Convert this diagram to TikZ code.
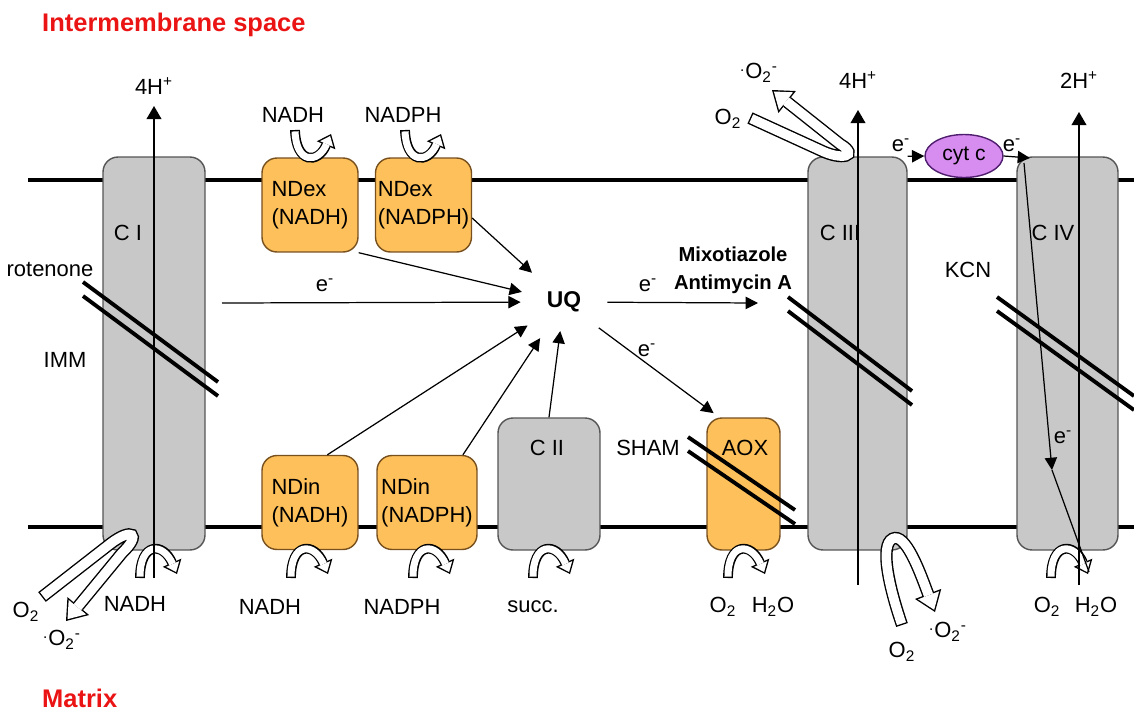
\documentclass[tikz,border=0pt]{standalone}
\usepackage{fontspec}
\setmainfont{Liberation Sans}
\usepackage{tikz}
\usetikzlibrary{arrows.meta, positioning, shapes.geometric}

\definecolor{cplxgray}{RGB}{200,200,200}
\definecolor{cplxedge}{RGB}{85,85,85}
\definecolor{ndorange}{RGB}{253,192,90}
\definecolor{ndedge}{RGB}{120,80,30}
\definecolor{cytviolet}{RGB}{215,140,240}
\definecolor{cytedge}{RGB}{80,30,110}
\definecolor{titlered}{RGB}{235,20,20}

\newcommand{\superox}{\textsuperscript{.}O\textsubscript{2}\textsuperscript{-}}
\newcommand{\elec}{e\textsuperscript{-}}
\newcommand{\hollowarr}[2]{\draw[#1out] #2; \draw[#1in] #2;}

\tikzset{
  every node/.style={font=\fontsize{12.5}{16}\selectfont},
  title/.style={text=titlered, font=\fontsize{14.5}{17}\selectfont\bfseries},
  memb/.style={line width=2.8pt},
  cplx/.style={draw=cplxedge, fill=cplxgray, line width=0.8pt, rounded corners=8.5pt, inner sep=0pt},
  ndbox/.style={draw=ndedge, fill=ndorange, line width=0.8pt, rounded corners=8.5pt, inner sep=0pt,
    align=left, minimum width=1.92cm, minimum height=1.88cm},
  cytc/.style={ellipse, draw=cytedge, fill=cytviolet, line width=0.8pt, inner sep=0pt,
    minimum width=1.56cm, minimum height=0.86cm, font=\fontsize{12}{14}\selectfont},
  hplus/.style={line width=0.7pt, -{Triangle[length=7.5pt,width=8.5pt]}},
  earrow/.style={line width=0.7pt, -{Triangle[length=7pt,width=7pt]}},
  thinl/.style={line width=0.7pt},
  block/.style={line width=2.2pt},
  archout/.style={line width=5.6pt, -{Triangle[length=7pt,width=11.5pt,line width=0pt]}},
  archin/.style={white, line width=4pt, shorten <=0.8pt, shorten >=1.26pt,
    -{Triangle[length=4.94pt,width=8.1pt,line width=0pt]}},
  rosout/.style={line width=7pt, -{Triangle[length=11pt,width=16pt,line width=0pt]}},
  rosin/.style={white, line width=5.4pt, shorten <=0.8pt, shorten >=1.36pt,
    -{Triangle[length=8.84pt,width=12.86pt,line width=0pt]}},
}

\begin{document}
\begin{tikzpicture}[x=0.02cm, y=-0.02cm]
  \useasboundingbox (0,0) rectangle (1134,711);

  % membrane
  \draw[memb] (28,180) -- (1134,180);
  \draw[memb] (28,527) -- (1134,527);

  \node[title, anchor=west] (ims) at (36,25) {Intermembrane space};
  \node[title, anchor=west] (mtx) at (36,698) {Matrix};

  % complexes
  \node[cplx, minimum width=2.04cm, minimum height=7.86cm] (ci) at (154,353.5) {};
  \node[cplx, minimum width=1.98cm, minimum height=7.86cm] (ciii) at (857.5,353.5) {};
  \node[cplx, minimum width=2.02cm, minimum height=7.86cm] (civ) at (1067.5,353.5) {};
  \node[cplx, minimum width=2.04cm, minimum height=2.64cm] (cii) at (549,484) {};
  \node[ndbox] (ndexa) at (310,205) {NDex\\(NADH)};
  \node[ndbox] (ndexb) at (423.5,205) {NDex\\(NADPH)};
  \node[ndbox] (ndina) at (310,502.5) {NDin\\(NADH)};
  \node[ndbox, minimum width=2cm] (ndinb) at (427,502.5) {NDin\\(NADPH)};
  \node[ndbox, minimum width=1.46cm, minimum height=2.64cm] (aox) at (743.5,484) {};
  \node[cytc] (cyt) at (964,156) {cyt c};

  \node (lci) at (128,233) {C I};
  \node (lciii) at (840,233) {C III};
  \node (lciv) at (1053,233) {C IV};
  \node (lcii) at (547,448) {C II};
  \node (laox) at (745,448) {AOX};
  \node[font=\fontsize{13}{15}\selectfont\bfseries, minimum size=1.72cm, circle] (uq) at (564,302) {UQ};

  % substrates
  \node (sa) at (293,115) {NADH};
  \node (sb) at (403,115) {NADPH};
  \node (sc) at (270,607) {NADH};
  \node (sd) at (402,607) {NADPH};
  \node (se) at (533,607) {succ.};
  \node (sf) at (723,607) {O\textsubscript{2}};
  \node (sg) at (773,607) {H\textsubscript{2}O};
  \node (sh) at (1047,607) {O\textsubscript{2}};
  \node (si) at (1096,607) {H\textsubscript{2}O};
  \node (sj) at (135,604) {NADH};

  % inhibitors
  \node (rot) at (50,270) {rotenone};
  \node (imm) at (65,360) {IMM};
  \node (kcn) at (968,270) {KCN};
  \node (sham) at (648,448) {SHAM};
  \node[align=center, font=\fontsize{11.5}{16}\selectfont\bfseries] (mixo) at (733,270) {Mixotiazole\\Antimycin A};
  \foreach \xa/\ya/\xb/\yb in {83/282/218/382, 788/297/912/391, 997/297/1134/396, 688/437/795/510} {
    \draw[block] (\xa,\ya) -- (\xb,\yb);
    \draw[block] (\xa,{\ya+14}) -- (\xb,{\yb+14});
  }

  % small turnover arrows
  \foreach \ax in {157,308,430,550,745,1068} {
    \hollowarr{arch}{({\ax-17},578) .. controls ({\ax-17},542) and ({\ax+6},542) .. ({\ax+20},574)}
  }
  \foreach \ax in {312,422} {
    \hollowarr{arch}{({\ax-17},130) .. controls ({\ax-16},164) and ({\ax+6},164) .. ({\ax+19},134)}
  }

  % superoxide
  \hollowarr{ros}{(42,597) -- (110,544) .. controls (132,527) and (142,534) .. (122,553) -- (66,621)}
  \hollowarr{ros}{(750,118) -- (820,150) .. controls (842,161) and (860,156) .. (840,144) -- (772,90)}
  \hollowarr{ros}{(902,625) .. controls (886,578) and (880,540) .. (895,538) .. controls (908,537) and (922,578) .. (935,612)}
  \node (o2a) at (26,612) {O\textsubscript{2}};
  \node (soa) at (62,640) {\superox};
  \node (o2b) at (728,119) {O\textsubscript{2}};
  \node (sob) at (759,73) {\superox};
  \node (o2c) at (902,652) {O\textsubscript{2}};
  \node (soc) at (948,632) {\superox};

  % protons
  \foreach \cx/\cb/\ct/\ty/\lbl in {154/578/106/86/4H, 858/585/110/80/4H, 1079/585/112/80/2H} {
    \coordinate (pb\cx) at (\cx,\cb);
    \coordinate (pt\cx) at (\cx,\ct);
    \draw[hplus] (pb\cx) -- (pt\cx);
    \node (hp\cx) at (\cx,\ty) {\lbl\textsuperscript{+}};
  }

  % electron flow
  \coordinate (ein) at (222,303);
  \coordinate (eout) at (758,303);
  \coordinate (civin) at (1030,158);
  \coordinate (e4a) at (1024,163);
  \coordinate (e4b) at (1052,470);
  \coordinate (e4c) at (1089,572);
  \draw[earrow] (ein) -- (uq);
  \draw[earrow] (ndexa.south east) -- (uq);
  \draw[earrow] (ndexb.-15) -- (uq);
  \draw[earrow] (ndina.70) -- (uq);
  \draw[earrow] (ndinb.53) -- (uq);
  \draw[earrow, shorten >=-8pt] (cii.north) -- (uq);
  \draw[earrow] (uq) -- (eout);
  \draw[earrow, shorten >=4pt] (uq) -- (aox.110);
  \draw[earrow] (ciii.north east) -- (cyt.west);
  \draw[earrow] (cyt.east) -- (civin);
  \draw[earrow] (e4a) -- (e4b);
  \draw[thinl] (e4b) -- (e4c);

  \node (ea) at (325,285) {\elec};
  \node (eb) at (648,285) {\elec};
  \node (ec) at (647,350) {\elec};
  \node (ed) at (901,145) {\elec};
  \node (ee) at (1012,145) {\elec};
  \node (ef) at (1063,437) {\elec};
\end{tikzpicture}
\end{document}
